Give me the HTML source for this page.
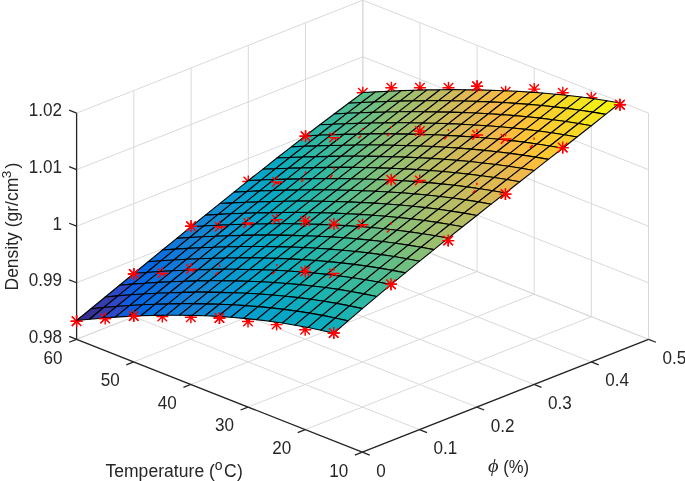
<!DOCTYPE html>
<html><head><meta charset="utf-8"><style>
html,body{margin:0;padding:0;background:#fff;}
svg{display:block;will-change:transform;}
</style></head><body>
<svg width="685" height="481" viewBox="0 0 685 481">
<g stroke="#d9d9d9" stroke-width="1" fill="none">
<line x1="76.6" y1="339.3" x2="76.6" y2="113.1"/>
<line x1="362.3" y1="452.2" x2="76.6" y2="339.3"/>
<line x1="133.84" y1="316.72" x2="133.84" y2="90.52"/>
<line x1="419.54" y1="429.62" x2="133.84" y2="316.72"/>
<line x1="191.08" y1="294.14" x2="191.08" y2="67.94"/>
<line x1="476.78" y1="407.04" x2="191.08" y2="294.14"/>
<line x1="248.32" y1="271.56" x2="248.32" y2="45.36"/>
<line x1="534.02" y1="384.46" x2="248.32" y2="271.56"/>
<line x1="305.56" y1="248.98" x2="305.56" y2="22.78"/>
<line x1="591.26" y1="361.88" x2="305.56" y2="248.98"/>
<line x1="362.8" y1="226.4" x2="362.8" y2="0.2"/>
<line x1="648.5" y1="339.3" x2="362.8" y2="226.4"/>
<line x1="648.5" y1="339.3" x2="648.5" y2="113.1"/>
<line x1="362.3" y1="452.2" x2="648.5" y2="339.3"/>
<line x1="591.36" y1="316.72" x2="591.36" y2="90.52"/>
<line x1="305.16" y1="429.62" x2="591.36" y2="316.72"/>
<line x1="534.22" y1="294.14" x2="534.22" y2="67.94"/>
<line x1="248.02" y1="407.04" x2="534.22" y2="294.14"/>
<line x1="477.08" y1="271.56" x2="477.08" y2="45.36"/>
<line x1="190.88" y1="384.46" x2="477.08" y2="271.56"/>
<line x1="419.94" y1="248.98" x2="419.94" y2="22.78"/>
<line x1="133.74" y1="361.88" x2="419.94" y2="248.98"/>
<line x1="362.8" y1="226.4" x2="362.8" y2="0.2"/>
<line x1="76.6" y1="339.3" x2="362.8" y2="226.4"/>
<line x1="76.6" y1="339.3" x2="362.8" y2="226.4"/>
<line x1="362.8" y1="226.4" x2="648.5" y2="339.3"/>
<line x1="76.6" y1="282.75" x2="362.8" y2="169.85"/>
<line x1="362.8" y1="169.85" x2="648.5" y2="282.75"/>
<line x1="76.6" y1="226.2" x2="362.8" y2="113.3"/>
<line x1="362.8" y1="113.3" x2="648.5" y2="226.2"/>
<line x1="76.6" y1="169.65" x2="362.8" y2="56.75"/>
<line x1="362.8" y1="56.75" x2="648.5" y2="169.65"/>
<line x1="76.6" y1="113.1" x2="362.8" y2="0.2"/>
<line x1="362.8" y1="0.2" x2="648.5" y2="113.1"/>
</g>
<g stroke="#262626" stroke-width="1.3" fill="none" stroke-linecap="butt">
<line x1="362.3" y1="452.2" x2="76.6" y2="339.3"/>
<line x1="362.3" y1="452.2" x2="648.5" y2="339.3"/>
<line x1="76.6" y1="339.3" x2="76.6" y2="113.1"/>
<line x1="362.3" y1="452.2" x2="354.86" y2="455.14"/>
<line x1="305.16" y1="429.62" x2="297.72" y2="432.56"/>
<line x1="248.02" y1="407.04" x2="240.58" y2="409.98"/>
<line x1="190.88" y1="384.46" x2="183.44" y2="387.4"/>
<line x1="133.74" y1="361.88" x2="126.3" y2="364.82"/>
<line x1="76.6" y1="339.3" x2="69.16" y2="342.24"/>
<line x1="362.3" y1="452.2" x2="369.74" y2="455.14"/>
<line x1="419.54" y1="429.62" x2="426.98" y2="432.56"/>
<line x1="476.78" y1="407.04" x2="484.22" y2="409.98"/>
<line x1="534.02" y1="384.46" x2="541.46" y2="387.4"/>
<line x1="591.26" y1="361.88" x2="598.7" y2="364.82"/>
<line x1="648.5" y1="339.3" x2="655.94" y2="342.24"/>
<line x1="76.6" y1="339.3" x2="69.16" y2="336.36"/>
<line x1="76.6" y1="282.75" x2="69.16" y2="279.81"/>
<line x1="76.6" y1="226.2" x2="69.16" y2="223.26"/>
<line x1="76.6" y1="169.65" x2="69.16" y2="166.71"/>
<line x1="76.6" y1="113.1" x2="69.16" y2="110.16"/>
</g>
<g stroke="#f00" stroke-width="1.45" fill="none">
<path d="M70.6 321.2H82.6M76.6 315.2V327.2M71.86 316.46L81.34 325.94M71.86 325.94L81.34 316.46"/>
<path d="M99.17 318.5H111.17M105.17 312.5V324.5M100.43 313.76L109.91 323.24M100.43 323.24L109.91 313.76"/>
<path d="M127.74 315.9H139.74M133.74 309.9V321.9M129 311.16L138.48 320.64M129 320.64L138.48 311.16"/>
<path d="M156.31 316.5H168.31M162.31 310.5V322.5M157.57 311.76L167.05 321.24M157.57 321.24L167.05 311.76"/>
<path d="M184.88 317.2H196.88M190.88 311.2V323.2M186.14 312.46L195.62 321.94M186.14 321.94L195.62 312.46"/>
<path d="M213.45 318H225.45M219.45 312V324M214.71 313.26L224.19 322.74M214.71 322.74L224.19 313.26"/>
<path d="M242.02 321.5H254.02M248.02 315.5V327.5M243.28 316.76L252.76 326.24M243.28 326.24L252.76 316.76"/>
<path d="M270.59 324.6H282.59M276.59 318.6V330.6M271.85 319.86L281.33 329.34M271.85 329.34L281.33 319.86"/>
<path d="M299.16 329.8H311.16M305.16 323.8V335.8M300.42 325.06L309.9 334.54M300.42 334.54L309.9 325.06"/>
<path d="M327.73 333H339.73M333.73 327V339M328.99 328.26L338.47 337.74M328.99 337.74L338.47 328.26"/>
<path d="M127.84 273.9H139.84M133.84 267.9V279.9M129.1 269.16L138.58 278.64M129.1 278.64L138.58 269.16"/>
<path d="M156.41 273.2H168.41M162.41 267.2V279.2M157.67 268.46L167.15 277.94M157.67 277.94L167.15 268.46"/>
<path d="M184.98 269.1H196.98M190.98 263.1V275.1M186.24 264.36L195.72 273.84M186.24 273.84L195.72 264.36"/>
<path d="M213.55 270.8H225.55M219.55 264.8V276.8M214.81 266.06L224.29 275.54M214.81 275.54L224.29 266.06"/>
<path d="M242.12 286.37H254.12M248.12 280.37V292.37M243.38 281.63L252.86 291.11M243.38 291.11L252.86 281.63"/>
<path d="M270.69 270H282.69M276.69 264V276M271.95 265.26L281.43 274.74M271.95 274.74L281.43 265.26"/>
<path d="M299.26 271.5H311.26M305.26 265.5V277.5M300.52 266.76L310 276.24M300.52 276.24L310 266.76"/>
<path d="M327.83 273.5H339.83M333.83 267.5V279.5M329.09 268.76L338.57 278.24M329.09 278.24L338.57 268.76"/>
<path d="M356.4 296.25H368.4M362.4 290.25V302.25M357.66 291.51L367.14 300.99M357.66 300.99L367.14 291.51"/>
<path d="M384.97 284.3H396.97M390.97 278.3V290.3M386.23 279.56L395.71 289.04M386.23 289.04L395.71 279.56"/>
<path d="M185.08 226.2H197.08M191.08 220.2V232.2M186.34 221.46L195.82 230.94M186.34 230.94L195.82 221.46"/>
<path d="M213.65 226.7H225.65M219.65 220.7V232.7M214.91 221.96L224.39 231.44M214.91 231.44L224.39 221.96"/>
<path d="M242.22 223H254.22M248.22 217V229M243.48 218.26L252.96 227.74M243.48 227.74L252.96 218.26"/>
<path d="M270.79 219.6H282.79M276.79 213.6V225.6M272.05 214.86L281.53 224.34M272.05 224.34L281.53 214.86"/>
<path d="M299.36 220.9H311.36M305.36 214.9V226.9M300.62 216.16L310.1 225.64M300.62 225.64L310.1 216.16"/>
<path d="M327.93 224.1H339.93M333.93 218.1V230.1M329.19 219.36L338.67 228.84M329.19 228.84L338.67 219.36"/>
<path d="M356.5 224.8H368.5M362.5 218.8V230.8M357.76 220.06L367.24 229.54M357.76 229.54L367.24 220.06"/>
<path d="M385.07 228.3H397.07M391.07 222.3V234.3M386.33 223.56L395.81 233.04M386.33 233.04L395.81 223.56"/>
<path d="M413.64 250.23H425.64M419.64 244.23V256.23M414.9 245.49L424.38 254.97M414.9 254.97L424.38 245.49"/>
<path d="M442.21 240.6H454.21M448.21 234.6V246.6M443.47 235.86L452.95 245.34M443.47 245.34L452.95 235.86"/>
<path d="M242.32 181.5H254.32M248.32 175.5V187.5M243.58 176.76L253.06 186.24M243.58 186.24L253.06 176.76"/>
<path d="M270.89 182H282.89M276.89 176V188M272.15 177.26L281.63 186.74M272.15 186.74L281.63 177.26"/>
<path d="M299.46 177.6H311.46M305.46 171.6V183.6M300.72 172.86L310.2 182.34M300.72 182.34L310.2 172.86"/>
<path d="M328.03 173.6H340.03M334.03 167.6V179.6M329.29 168.86L338.77 178.34M329.29 178.34L338.77 168.86"/>
<path d="M356.6 195.99H368.6M362.6 189.99V201.99M357.86 191.25L367.34 200.73M357.86 200.73L367.34 191.25"/>
<path d="M385.17 179.8H397.17M391.17 173.8V185.8M386.43 175.06L395.91 184.54M386.43 184.54L395.91 175.06"/>
<path d="M413.74 180.4H425.74M419.74 174.4V186.4M415 175.66L424.48 185.14M415 185.14L424.48 175.66"/>
<path d="M442.31 201.6H454.31M448.31 195.6V207.6M443.57 196.86L453.05 206.34M443.57 206.34L453.05 196.86"/>
<path d="M470.88 188.8H482.88M476.88 182.8V194.8M472.14 184.06L481.62 193.54M472.14 193.54L481.62 184.06"/>
<path d="M499.45 194.1H511.45M505.45 188.1V200.1M500.71 189.36L510.19 198.84M500.71 198.84L510.19 189.36"/>
<path d="M299.56 136.3H311.56M305.56 130.3V142.3M300.82 131.56L310.3 141.04M300.82 141.04L310.3 131.56"/>
<path d="M328.13 137.6H340.13M334.13 131.6V143.6M329.39 132.86L338.87 142.34M329.39 142.34L338.87 132.86"/>
<path d="M356.7 134H368.7M362.7 128V140M357.96 129.26L367.44 138.74M357.96 138.74L367.44 129.26"/>
<path d="M385.27 132H397.27M391.27 126V138M386.53 127.26L396.01 136.74M386.53 136.74L396.01 127.26"/>
<path d="M413.84 131H425.84M419.84 125V137M415.1 126.26L424.58 135.74M415.1 135.74L424.58 126.26"/>
<path d="M442.41 135H454.41M448.41 129V141M443.67 130.26L453.15 139.74M443.67 139.74L453.15 130.26"/>
<path d="M470.98 135H482.98M476.98 129V141M472.24 130.26L481.72 139.74M472.24 139.74L481.72 130.26"/>
<path d="M499.55 138.9H511.55M505.55 132.9V144.9M500.81 134.16L510.29 143.64M500.81 143.64L510.29 134.16"/>
<path d="M528.12 143.6H540.12M534.12 137.6V149.6M529.38 138.86L538.86 148.34M529.38 148.34L538.86 138.86"/>
<path d="M556.69 147.6H568.69M562.69 141.6V153.6M557.95 142.86L567.43 152.34M557.95 152.34L567.43 142.86"/>
<path d="M356.8 92.8H368.8M362.8 86.8V98.8M358.06 88.06L367.54 97.54M358.06 97.54L367.54 88.06"/>
<path d="M385.37 87.8H397.37M391.37 81.8V93.8M386.63 83.06L396.11 92.54M386.63 92.54L396.11 83.06"/>
<path d="M413.94 87.8H425.94M419.94 81.8V93.8M415.2 83.06L424.68 92.54M415.2 92.54L424.68 83.06"/>
<path d="M442.51 87.8H454.51M448.51 81.8V93.8M443.77 83.06L453.25 92.54M443.77 92.54L453.25 83.06"/>
<path d="M471.08 86.2H483.08M477.08 80.2V92.2M472.34 81.46L481.82 90.94M472.34 90.94L481.82 81.46"/>
<path d="M499.65 91.7H511.65M505.65 85.7V97.7M500.91 86.96L510.39 96.44M500.91 96.44L510.39 86.96"/>
<path d="M528.22 89.1H540.22M534.22 83.1V95.1M529.48 84.36L538.96 93.84M529.48 93.84L538.96 84.36"/>
<path d="M556.79 92.8H568.79M562.79 86.8V98.8M558.05 88.06L567.53 97.54M558.05 97.54L567.53 88.06"/>
<path d="M585.36 97.8H597.36M591.36 91.8V103.8M586.62 93.06L596.1 102.54M586.62 102.54L596.1 93.06"/>
<path d="M613.93 104.8H625.93M619.93 98.8V110.8M615.19 100.06L624.67 109.54M615.19 109.54L624.67 100.06"/>
</g>
<g stroke="#000" stroke-width="1.1" stroke-linejoin="round">
<polygon points="361.35,102.52 375.66,91.83 362.8,92.57 348.49,103.2" fill="#59bd8c"/>
<polygon points="374.2,101.94 388.51,91.19 375.66,91.83 361.35,102.52" fill="#71bf80"/>
<polygon points="347.04,113.32 361.35,102.52 348.49,103.2 334.18,113.95" fill="#4dbc92"/>
<polygon points="387.06,101.47 401.37,90.65 388.51,91.19 374.2,101.94" fill="#87bf77"/>
<polygon points="359.89,112.79 374.2,101.94 361.35,102.52 347.04,113.32" fill="#65be86"/>
<polygon points="332.73,124.22 347.04,113.32 334.18,113.95 319.87,124.81" fill="#38b99e"/>
<polygon points="399.92,101.1 414.23,90.23 401.37,90.65 387.06,101.47" fill="#9cbf6f"/>
<polygon points="372.75,112.36 387.06,101.47 374.2,101.94 359.89,112.79" fill="#71bf80"/>
<polygon points="345.58,123.73 359.89,112.79 347.04,113.32 332.73,124.22" fill="#4dbc92"/>
<polygon points="318.42,135.22 332.73,124.22 319.87,124.81 305.56,135.79" fill="#2eb7a4"/>
<polygon points="412.77,100.84 427.08,89.91 414.23,90.23 399.92,101.1" fill="#a5be6b"/>
<polygon points="385.61,112.04 399.92,101.1 387.06,101.47 372.75,112.36" fill="#87bf77"/>
<polygon points="358.44,123.33 372.75,112.36 359.89,112.79 345.58,123.73" fill="#65be86"/>
<polygon points="331.27,134.75 345.58,123.73 332.73,124.22 318.42,135.22" fill="#38b99e"/>
<polygon points="304.11,146.31 318.42,135.22 305.56,135.79 291.25,146.87" fill="#1db3af"/>
<polygon points="425.63,100.7 439.94,89.72 427.08,89.91 412.77,100.84" fill="#b7bd64"/>
<polygon points="398.46,111.82 412.77,100.84 399.92,101.1 385.61,112.04" fill="#9cbf6f"/>
<polygon points="371.3,123.04 385.61,112.04 372.75,112.36 358.44,123.33" fill="#71bf80"/>
<polygon points="344.13,134.37 358.44,123.33 345.58,123.73 331.27,134.75" fill="#4dbc92"/>
<polygon points="316.96,145.84 331.27,134.75 318.42,135.22 304.11,146.31" fill="#2eb7a4"/>
<polygon points="289.8,157.48 304.11,146.31 291.25,146.87 276.94,158.05" fill="#0faeb9"/>
<polygon points="438.49,100.67 452.8,89.64 439.94,89.72 425.63,100.7" fill="#c0bc60"/>
<polygon points="411.32,111.71 425.63,100.7 412.77,100.84 398.46,111.82" fill="#a5be6b"/>
<polygon points="384.15,122.85 398.46,111.82 385.61,112.04 371.3,123.04" fill="#87bf77"/>
<polygon points="356.99,134.09 371.3,123.04 358.44,123.33 344.13,134.37" fill="#65be86"/>
<polygon points="329.82,145.48 344.13,134.37 331.27,134.75 316.96,145.84" fill="#38b99e"/>
<polygon points="302.65,157.02 316.96,145.84 304.11,146.31 289.8,157.48" fill="#1db3af"/>
<polygon points="275.49,168.74 289.8,157.48 276.94,158.05 262.63,169.31" fill="#07a9c2"/>
<polygon points="451.34,100.77 465.65,89.7 452.8,89.64 438.49,100.67" fill="#d1bb59"/>
<polygon points="424.18,111.73 438.49,100.67 425.63,100.7 411.32,111.71" fill="#b7bd64"/>
<polygon points="397.01,122.77 411.32,111.71 398.46,111.82 384.15,122.85" fill="#9cbf6f"/>
<polygon points="369.84,133.92 384.15,122.85 371.3,123.04 356.99,134.09" fill="#71bf80"/>
<polygon points="342.68,145.21 356.99,134.09 344.13,134.37 329.82,145.48" fill="#4dbc92"/>
<polygon points="315.51,156.64 329.82,145.48 316.96,145.84 302.65,157.02" fill="#2eb7a4"/>
<polygon points="288.34,168.25 302.65,157.02 289.8,157.48 275.49,168.74" fill="#0faeb9"/>
<polygon points="261.18,180.06 275.49,168.74 262.63,169.31 248.32,180.66" fill="#06a7c6"/>
<polygon points="464.2,101 478.51,89.89 465.65,89.7 451.34,100.77" fill="#e1b952"/>
<polygon points="437.03,111.86 451.34,100.77 438.49,100.67 424.18,111.73" fill="#c0bc60"/>
<polygon points="409.87,122.81 424.18,111.73 411.32,111.71 397.01,122.77" fill="#a5be6b"/>
<polygon points="382.7,133.86 397.01,122.77 384.15,122.85 369.84,133.92" fill="#87bf77"/>
<polygon points="355.53,145.04 369.84,133.92 356.99,134.09 342.68,145.21" fill="#65be86"/>
<polygon points="328.37,156.37 342.68,145.21 329.82,145.48 315.51,156.64" fill="#38b99e"/>
<polygon points="301.2,167.87 315.51,156.64 302.65,157.02 288.34,168.25" fill="#1db3af"/>
<polygon points="274.03,179.55 288.34,168.25 275.49,168.74 261.18,180.06" fill="#07a9c2"/>
<polygon points="246.87,191.45 261.18,180.06 248.32,180.66 234.01,192.08" fill="#06a0cd"/>
<polygon points="477.06,101.37 491.37,90.21 478.51,89.89 464.2,101" fill="#e9b94e"/>
<polygon points="449.89,112.12 464.2,101 451.34,100.77 437.03,111.86" fill="#d1bb59"/>
<polygon points="422.72,122.96 437.03,111.86 424.18,111.73 409.87,122.81" fill="#b7bd64"/>
<polygon points="395.56,133.91 409.87,122.81 397.01,122.77 382.7,133.86" fill="#92bf73"/>
<polygon points="368.39,144.99 382.7,133.86 369.84,133.92 355.53,145.04" fill="#71bf80"/>
<polygon points="341.22,156.21 355.53,145.04 342.68,145.21 328.37,156.37" fill="#4dbc92"/>
<polygon points="314.06,167.59 328.37,156.37 315.51,156.64 301.2,167.87" fill="#25b5a9"/>
<polygon points="286.89,179.15 301.2,167.87 288.34,168.25 274.03,179.55" fill="#0faeb9"/>
<polygon points="259.72,190.91 274.03,179.55 261.18,180.06 246.87,191.45" fill="#06a7c6"/>
<polygon points="489.91,101.88 504.22,90.69 491.37,90.21 477.06,101.37" fill="#f1b94a"/>
<polygon points="232.56,202.9 246.87,191.45 234.01,192.08 219.7,203.57" fill="#0998d1"/>
<polygon points="462.75,112.52 477.06,101.37 464.2,101 449.89,112.12" fill="#d9ba56"/>
<polygon points="435.58,123.25 449.89,112.12 437.03,111.86 422.72,122.96" fill="#c0bc60"/>
<polygon points="408.41,134.09 422.72,122.96 409.87,122.81 395.56,133.91" fill="#a5be6b"/>
<polygon points="381.25,145.05 395.56,133.91 382.7,133.86 368.39,144.99" fill="#87bf77"/>
<polygon points="354.08,156.15 368.39,144.99 355.53,145.04 341.22,156.21" fill="#59bd8c"/>
<polygon points="326.91,167.41 341.22,156.21 328.37,156.37 314.06,167.59" fill="#38b99e"/>
<polygon points="299.75,178.85 314.06,167.59 301.2,167.87 286.89,179.15" fill="#1db3af"/>
<polygon points="272.58,190.48 286.89,179.15 274.03,179.55 259.72,190.91" fill="#07a9c2"/>
<polygon points="502.77,102.54 517.08,91.32 504.22,90.69 489.91,101.88" fill="#fdbe3d"/>
<polygon points="245.41,202.32 259.72,190.91 246.87,191.45 232.56,202.9" fill="#06a0cd"/>
<polygon points="475.6,113.06 489.91,101.88 477.06,101.37 462.75,112.52" fill="#e9b94e"/>
<polygon points="218.25,214.4 232.56,202.9 219.7,203.57 205.39,215.12" fill="#108ed2"/>
<polygon points="448.44,123.67 462.75,112.52 449.89,112.12 435.58,123.25" fill="#d1bb59"/>
<polygon points="421.27,134.39 435.58,123.25 422.72,122.96 408.41,134.09" fill="#aebe67"/>
<polygon points="394.1,145.23 408.41,134.09 395.56,133.91 381.25,145.05" fill="#92bf73"/>
<polygon points="366.94,156.21 381.25,145.05 368.39,144.99 354.08,156.15" fill="#71bf80"/>
<polygon points="339.77,167.35 354.08,156.15 341.22,156.21 326.91,167.41" fill="#4dbc92"/>
<polygon points="312.6,178.65 326.91,167.41 314.06,167.59 299.75,178.85" fill="#25b5a9"/>
<polygon points="285.44,190.15 299.75,178.85 286.89,179.15 272.58,190.48" fill="#0faeb9"/>
<polygon points="515.62,103.36 529.93,92.1 517.08,91.32 502.77,102.54" fill="#ffc337"/>
<polygon points="258.27,201.85 272.58,190.48 259.72,190.91 245.41,202.32" fill="#06a7c6"/>
<polygon points="488.46,113.74 502.77,102.54 489.91,101.88 475.6,113.06" fill="#f1b94a"/>
<polygon points="231.1,213.78 245.41,202.32 232.56,202.9 218.25,214.4" fill="#0998d1"/>
<polygon points="203.94,225.94 218.25,214.4 205.39,215.12 191.08,226.72" fill="#1485d4"/>
<polygon points="461.29,124.22 475.6,113.06 462.75,112.52 448.44,123.67" fill="#d9ba56"/>
<polygon points="434.12,134.82 448.44,123.67 435.58,123.25 421.27,134.39" fill="#c0bc60"/>
<polygon points="406.96,145.53 421.27,134.39 408.41,134.09 394.1,145.23" fill="#a5be6b"/>
<polygon points="379.79,156.39 394.1,145.23 381.25,145.05 366.94,156.21" fill="#87bf77"/>
<polygon points="352.63,167.4 366.94,156.21 354.08,156.15 339.77,167.35" fill="#59bd8c"/>
<polygon points="325.46,178.57 339.77,167.35 326.91,167.41 312.6,178.65" fill="#38b99e"/>
<polygon points="298.29,189.93 312.6,178.65 299.75,178.85 285.44,190.15" fill="#1db3af"/>
<polygon points="528.48,104.35 542.79,93.06 529.93,92.1 515.62,103.36" fill="#fec832"/>
<polygon points="271.13,201.49 285.44,190.15 272.58,190.48 258.27,201.85" fill="#07a9c2"/>
<polygon points="501.31,114.58 515.62,103.36 502.77,102.54 488.46,113.74" fill="#f8bb44"/>
<polygon points="243.96,213.27 258.27,201.85 245.41,202.32 231.1,213.78" fill="#06a0cd"/>
<polygon points="474.15,124.93 488.46,113.74 475.6,113.06 461.29,124.22" fill="#e1b952"/>
<polygon points="216.79,225.27 231.1,213.78 218.25,214.4 203.94,225.94" fill="#108ed2"/>
<polygon points="446.98,135.38 461.29,124.22 448.44,123.67 434.12,134.82" fill="#c8bc5d"/>
<polygon points="189.63,237.53 203.94,225.94 191.08,226.72 176.77,238.37" fill="#1481d6"/>
<polygon points="419.82,145.97 434.12,134.82 421.27,134.39 406.96,145.53" fill="#aebe67"/>
<polygon points="392.65,156.69 406.96,145.53 394.1,145.23 379.79,156.39" fill="#92bf73"/>
<polygon points="365.48,167.57 379.79,156.39 366.94,156.21 352.63,167.4" fill="#71bf80"/>
<polygon points="338.32,178.61 352.63,167.4 339.77,167.35 325.46,178.57" fill="#4dbc92"/>
<polygon points="311.15,189.83 325.46,178.57 312.6,178.65 298.29,189.93" fill="#25b5a9"/>
<polygon points="541.34,105.51 555.65,94.2 542.79,93.06 528.48,104.35" fill="#fad32a"/>
<polygon points="283.98,201.25 298.29,189.93 285.44,190.15 271.13,201.49" fill="#0faeb9"/>
<polygon points="514.17,115.59 528.48,104.35 515.62,103.36 501.31,114.58" fill="#ffc337"/>
<polygon points="256.82,212.87 271.13,201.49 258.27,201.85 243.96,213.27" fill="#06a4ca"/>
<polygon points="487,125.78 501.31,114.58 488.46,113.74 474.15,124.93" fill="#f1b94a"/>
<polygon points="229.65,224.72 243.96,213.27 231.1,213.78 216.79,225.27" fill="#0998d1"/>
<polygon points="459.84,136.1 474.15,124.93 461.29,124.22 446.98,135.38" fill="#d9ba56"/>
<polygon points="202.48,236.81 216.79,225.27 203.94,225.94 189.63,237.53" fill="#1485d4"/>
<polygon points="175.32,249.15 189.63,237.53 176.77,238.37 162.46,250.05" fill="#1079da"/>
<polygon points="432.67,146.54 446.98,135.38 434.12,134.82 419.82,145.97" fill="#c0bc60"/>
<polygon points="405.5,157.13 419.82,145.97 406.96,145.53 392.65,156.69" fill="#9cbf6f"/>
<polygon points="378.34,167.87 392.65,156.69 379.79,156.39 365.48,167.57" fill="#7cbf7b"/>
<polygon points="351.17,178.77 365.48,167.57 352.63,167.4 338.32,178.61" fill="#59bd8c"/>
<polygon points="324.01,189.85 338.32,178.61 325.46,178.57 311.15,189.83" fill="#38b99e"/>
<polygon points="554.19,106.86 568.5,95.53 555.65,94.2 541.34,105.51" fill="#f7d826"/>
<polygon points="296.84,201.12 311.15,189.83 298.29,189.93 283.98,201.25" fill="#15b1b4"/>
<polygon points="527.03,116.77 541.34,105.51 528.48,104.35 514.17,115.59" fill="#fec832"/>
<polygon points="269.67,212.59 283.98,201.25 271.13,201.49 256.82,212.87" fill="#07a9c2"/>
<polygon points="499.86,126.81 514.17,115.59 501.31,114.58 487,125.78" fill="#f8bb44"/>
<polygon points="242.51,224.28 256.82,212.87 243.96,213.27 229.65,224.72" fill="#06a0cd"/>
<polygon points="472.69,136.97 487,125.78 474.15,124.93 459.84,136.1" fill="#e1b952"/>
<polygon points="215.34,236.2 229.65,224.72 216.79,225.27 202.48,236.81" fill="#108ed2"/>
<polygon points="445.53,147.26 459.84,136.1 446.98,135.38 432.67,146.54" fill="#c8bc5d"/>
<polygon points="188.17,248.37 202.48,236.81 189.63,237.53 175.32,249.15" fill="#1481d6"/>
<polygon points="418.36,157.7 432.67,146.54 419.82,145.97 405.5,157.13" fill="#aebe67"/>
<polygon points="161.01,260.8 175.32,249.15 162.46,250.05 148.15,261.76" fill="#0871de"/>
<polygon points="391.2,168.3 405.5,157.13 392.65,156.69 378.34,167.87" fill="#92bf73"/>
<polygon points="364.03,179.06 378.34,167.87 365.48,167.57 351.17,178.77" fill="#71bf80"/>
<polygon points="336.86,190 351.17,178.77 338.32,178.61 324.01,189.85" fill="#42bb98"/>
<polygon points="567.05,108.41 581.36,97.07 568.5,95.53 554.19,106.86" fill="#f5de21"/>
<polygon points="309.7,201.12 324.01,189.85 311.15,189.83 296.84,201.12" fill="#25b5a9"/>
<polygon points="539.88,118.14 554.19,106.86 541.34,105.51 527.03,116.77" fill="#fcce2e"/>
<polygon points="282.53,212.44 296.84,201.12 283.98,201.25 269.67,212.59" fill="#0faeb9"/>
<polygon points="255.36,223.97 269.67,212.59 256.82,212.87 242.51,224.28" fill="#06a4ca"/>
<polygon points="512.72,128 527.03,116.77 514.17,115.59 499.86,126.81" fill="#fdbe3d"/>
<polygon points="485.55,138 499.86,126.81 487,125.78 472.69,136.97" fill="#e9b94e"/>
<polygon points="228.2,235.72 242.51,224.28 229.65,224.72 215.34,236.2" fill="#0998d1"/>
<polygon points="458.38,148.14 472.69,136.97 459.84,136.1 445.53,147.26" fill="#d1bb59"/>
<polygon points="201.03,247.72 215.34,236.2 202.48,236.81 188.17,248.37" fill="#1485d4"/>
<polygon points="431.22,158.42 445.53,147.26 432.67,146.54 418.36,157.7" fill="#b7bd64"/>
<polygon points="173.86,259.96 188.17,248.37 175.32,249.15 161.01,260.8" fill="#1079da"/>
<polygon points="404.05,168.87 418.36,157.7 405.5,157.13 391.2,168.3" fill="#9cbf6f"/>
<polygon points="146.7,272.46 161.01,260.8 148.15,261.76 133.84,273.5" fill="#0268e1"/>
<polygon points="376.88,179.48 391.2,168.3 378.34,167.87 364.03,179.06" fill="#7cbf7b"/>
<polygon points="349.72,190.27 364.03,179.06 351.17,178.77 336.86,190" fill="#59bd8c"/>
<polygon points="579.91,110.18 594.22,98.81 581.36,97.07 567.05,108.41" fill="#f5e41d"/>
<polygon points="322.55,201.24 336.86,190 324.01,189.85 309.7,201.12" fill="#38b99e"/>
<polygon points="552.74,119.7 567.05,108.41 554.19,106.86 539.88,118.14" fill="#fad32a"/>
<polygon points="295.39,212.41 309.7,201.12 296.84,201.12 282.53,212.44" fill="#15b1b4"/>
<polygon points="525.57,129.38 539.88,118.14 527.03,116.77 512.72,128" fill="#ffc337"/>
<polygon points="268.22,223.78 282.53,212.44 269.67,212.59 255.36,223.97" fill="#07a9c2"/>
<polygon points="498.41,139.2 512.72,128 499.86,126.81 485.55,138" fill="#f1b94a"/>
<polygon points="241.05,235.37 255.36,223.97 242.51,224.28 228.2,235.72" fill="#06a0cd"/>
<polygon points="471.24,149.17 485.55,138 472.69,136.97 458.38,148.14" fill="#d9ba56"/>
<polygon points="213.89,247.19 228.2,235.72 215.34,236.2 201.03,247.72" fill="#108ed2"/>
<polygon points="444.07,159.3 458.38,148.14 445.53,147.26 431.22,158.42" fill="#c8bc5d"/>
<polygon points="186.72,259.25 201.03,247.72 188.17,248.37 173.86,259.96" fill="#127dd8"/>
<polygon points="416.91,169.59 431.22,158.42 418.36,157.7 404.05,168.87" fill="#a5be6b"/>
<polygon points="159.55,271.57 173.86,259.96 161.01,260.8 146.7,272.46" fill="#0871de"/>
<polygon points="132.39,284.15 146.7,272.46 133.84,273.5 119.53,285.25" fill="#0f5cdd"/>
<polygon points="389.74,180.05 404.05,168.87 391.2,168.3 376.88,179.48" fill="#87bf77"/>
<polygon points="362.58,190.68 376.88,179.48 364.03,179.06 349.72,190.27" fill="#65be86"/>
<polygon points="592.76,112.16 607.07,100.79 594.22,98.81 579.91,110.18" fill="#f5eb18"/>
<polygon points="335.41,201.5 349.72,190.27 336.86,190 322.55,201.24" fill="#42bb98"/>
<polygon points="565.6,121.48 579.91,110.18 567.05,108.41 552.74,119.7" fill="#f7d826"/>
<polygon points="308.24,212.51 322.55,201.24 309.7,201.12 295.39,212.41" fill="#25b5a9"/>
<polygon points="538.43,130.95 552.74,119.7 539.88,118.14 525.57,129.38" fill="#fec832"/>
<polygon points="281.08,223.73 295.39,212.41 282.53,212.44 268.22,223.78" fill="#0faeb9"/>
<polygon points="511.26,140.58 525.57,129.38 512.72,128 498.41,139.2" fill="#fdbe3d"/>
<polygon points="253.91,235.15 268.22,223.78 255.36,223.97 241.05,235.37" fill="#06a4ca"/>
<polygon points="484.1,150.38 498.41,139.2 485.55,138 471.24,149.17" fill="#e9b94e"/>
<polygon points="226.74,246.8 241.05,235.37 228.2,235.72 213.89,247.19" fill="#0998d1"/>
<polygon points="456.93,160.34 471.24,149.17 458.38,148.14 444.07,159.3" fill="#d1bb59"/>
<polygon points="199.58,258.68 213.89,247.19 201.03,247.72 186.72,259.25" fill="#1485d4"/>
<polygon points="429.76,170.46 444.07,159.3 431.22,158.42 416.91,169.59" fill="#b7bd64"/>
<polygon points="172.41,270.81 186.72,259.25 173.86,259.96 159.55,271.57" fill="#1079da"/>
<polygon points="402.6,180.76 416.91,169.59 404.05,168.87 389.74,180.05" fill="#9cbf6f"/>
<polygon points="145.24,283.19 159.55,271.57 146.7,272.46 132.39,284.15" fill="#0268e1"/>
<polygon points="375.43,191.24 389.74,180.05 376.88,179.48 362.58,190.68" fill="#7cbf7b"/>
<polygon points="118.08,295.84 132.39,284.15 119.53,285.25 105.22,297.01" fill="#2c4ac7"/>
<polygon points="605.62,114.39 619.93,103.01 607.07,100.79 592.76,112.16" fill="#f6f313"/>
<polygon points="348.26,201.9 362.58,190.68 349.72,190.27 335.41,201.5" fill="#59bd8c"/>
<polygon points="578.45,123.47 592.76,112.16 579.91,110.18 565.6,121.48" fill="#f5de21"/>
<polygon points="321.1,212.76 335.41,201.5 322.55,201.24 308.24,212.51" fill="#2eb7a4"/>
<polygon points="551.29,132.73 565.6,121.48 552.74,119.7 538.43,130.95" fill="#fcce2e"/>
<polygon points="293.93,223.81 308.24,212.51 295.39,212.41 281.08,223.73" fill="#15b1b4"/>
<polygon points="524.12,142.16 538.43,130.95 525.57,129.38 511.26,140.58" fill="#ffc337"/>
<polygon points="266.77,235.07 281.08,223.73 268.22,223.78 253.91,235.15" fill="#07a9c2"/>
<polygon points="496.95,151.77 511.26,140.58 498.41,139.2 484.1,150.38" fill="#f1b94a"/>
<polygon points="239.6,246.55 253.91,235.15 241.05,235.37 226.74,246.8" fill="#079ccf"/>
<polygon points="469.79,161.55 484.1,150.38 471.24,149.17 456.93,160.34" fill="#d9ba56"/>
<polygon points="212.43,258.25 226.74,246.8 213.89,247.19 199.58,258.68" fill="#108ed2"/>
<polygon points="442.62,171.5 456.93,160.34 444.07,159.3 429.76,170.46" fill="#c0bc60"/>
<polygon points="185.27,270.2 199.58,258.68 186.72,259.25 172.41,270.81" fill="#127dd8"/>
<polygon points="415.45,181.63 429.76,170.46 416.91,169.59 402.6,180.76" fill="#a5be6b"/>
<polygon points="158.1,282.38 172.41,270.81 159.55,271.57 145.24,283.19" fill="#0871de"/>
<polygon points="388.29,191.95 402.6,180.76 389.74,180.05 375.43,191.24" fill="#87bf77"/>
<polygon points="130.93,294.82 145.24,283.19 132.39,284.15 118.08,295.84" fill="#0f5cdd"/>
<polygon points="361.12,202.45 375.43,191.24 362.58,190.68 348.26,201.9" fill="#65be86"/>
<polygon points="103.77,307.53 118.08,295.84 105.22,297.01 90.91,308.77" fill="#353dad"/>
<polygon points="591.31,125.71 605.62,114.39 592.76,112.16 578.45,123.47" fill="#f5e41d"/>
<polygon points="333.96,213.14 348.26,201.9 335.41,201.5 321.1,212.76" fill="#42bb98"/>
<polygon points="564.14,134.73 578.45,123.47 565.6,121.48 551.29,132.73" fill="#fad32a"/>
<polygon points="306.79,224.03 321.1,212.76 308.24,212.51 293.93,223.81" fill="#25b5a9"/>
<polygon points="536.98,143.95 551.29,132.73 538.43,130.95 524.12,142.16" fill="#fec832"/>
<polygon points="279.62,235.13 293.93,223.81 281.08,223.73 266.77,235.07" fill="#0aacbe"/>
<polygon points="252.46,246.44 266.77,235.07 253.91,235.15 239.6,246.55" fill="#06a4ca"/>
<polygon points="509.81,153.35 524.12,142.16 511.26,140.58 496.95,151.77" fill="#f8bb44"/>
<polygon points="482.64,162.94 496.95,151.77 484.1,150.38 469.79,161.55" fill="#e1b952"/>
<polygon points="225.29,257.97 239.6,246.55 226.74,246.8 212.43,258.25" fill="#0998d1"/>
<polygon points="455.48,172.71 469.79,161.55 456.93,160.34 442.62,171.5" fill="#c8bc5d"/>
<polygon points="198.12,269.73 212.43,258.25 199.58,258.68 185.27,270.2" fill="#1485d4"/>
<polygon points="428.31,182.67 442.62,171.5 429.76,170.46 415.45,181.63" fill="#aebe67"/>
<polygon points="170.96,281.72 185.27,270.2 172.41,270.81 158.1,282.38" fill="#1079da"/>
<polygon points="401.14,192.81 415.45,181.63 402.6,180.76 388.29,191.95" fill="#92bf73"/>
<polygon points="143.79,293.96 158.1,282.38 145.24,283.19 130.93,294.82" fill="#0268e1"/>
<polygon points="373.98,203.15 388.29,191.95 375.43,191.24 361.12,202.45" fill="#71bf80"/>
<polygon points="116.62,306.46 130.93,294.82 118.08,295.84 103.77,307.53" fill="#2c4ac7"/>
<polygon points="346.81,213.68 361.12,202.45 348.26,201.9 333.96,213.14" fill="#4dbc92"/>
<polygon points="89.46,319.22 103.77,307.53 90.91,308.77 76.6,320.52" fill="#363093"/>
<polygon points="577,136.97 591.31,125.71 578.45,123.47 564.14,134.73" fill="#f7d826"/>
<polygon points="319.64,224.41 333.96,213.14 321.1,212.76 306.79,224.03" fill="#2eb7a4"/>
<polygon points="549.83,145.96 564.14,134.73 551.29,132.73 536.98,143.95" fill="#fcce2e"/>
<polygon points="292.48,235.34 306.79,224.03 293.93,223.81 279.62,235.13" fill="#15b1b4"/>
<polygon points="522.67,155.14 536.98,143.95 524.12,142.16 509.81,153.35" fill="#fdbe3d"/>
<polygon points="265.31,246.48 279.62,235.13 266.77,235.07 252.46,246.44" fill="#07a9c2"/>
<polygon points="495.5,164.52 509.81,153.35 496.95,151.77 482.64,162.94" fill="#e9b94e"/>
<polygon points="238.15,257.84 252.46,246.44 239.6,246.55 225.29,257.97" fill="#079ccf"/>
<polygon points="468.33,174.1 482.64,162.94 469.79,161.55 455.48,172.71" fill="#d1bb59"/>
<polygon points="210.98,269.41 225.29,257.97 212.43,258.25 198.12,269.73" fill="#108ed2"/>
<polygon points="183.81,281.22 198.12,269.73 185.27,270.2 170.96,281.72" fill="#127dd8"/>
<polygon points="441.17,183.88 455.48,172.71 442.62,171.5 428.31,182.67" fill="#c0bc60"/>
<polygon points="414,193.85 428.31,182.67 415.45,181.63 401.14,192.81" fill="#a5be6b"/>
<polygon points="156.65,293.27 170.96,281.72 158.1,282.38 143.79,293.96" fill="#0871de"/>
<polygon points="386.83,204.01 401.14,192.81 388.29,191.95 373.98,203.15" fill="#87bf77"/>
<polygon points="129.48,305.56 143.79,293.96 130.93,294.82 116.62,306.46" fill="#0f5cdd"/>
<polygon points="359.67,214.37 373.98,203.15 361.12,202.45 346.81,213.68" fill="#65be86"/>
<polygon points="102.31,318.1 116.62,306.46 103.77,307.53 89.46,319.22" fill="#353dad"/>
<polygon points="332.5,224.94 346.81,213.68 333.96,213.14 319.64,224.41" fill="#38b99e"/>
<polygon points="562.69,148.2 577,136.97 564.14,134.73 549.83,145.96" fill="#fcce2e"/>
<polygon points="305.34,235.7 319.64,224.41 306.79,224.03 292.48,235.34" fill="#1db3af"/>
<polygon points="278.17,246.67 292.48,235.34 279.62,235.13 265.31,246.48" fill="#0aacbe"/>
<polygon points="535.52,157.15 549.83,145.96 536.98,143.95 522.67,155.14" fill="#ffc337"/>
<polygon points="508.36,166.32 522.67,155.14 509.81,153.35 495.5,164.52" fill="#f1b94a"/>
<polygon points="251,257.85 265.31,246.48 252.46,246.44 238.15,257.84" fill="#06a4ca"/>
<polygon points="481.19,175.69 495.5,164.52 482.64,162.94 468.33,174.1" fill="#d9ba56"/>
<polygon points="223.84,269.26 238.15,257.84 225.29,257.97 210.98,269.41" fill="#0c93d2"/>
<polygon points="454.02,185.28 468.33,174.1 455.48,172.71 441.17,183.88" fill="#c8bc5d"/>
<polygon points="196.67,280.88 210.98,269.41 198.12,269.73 183.81,281.22" fill="#1485d4"/>
<polygon points="426.86,195.06 441.17,183.88 428.31,182.67 414,193.85" fill="#aebe67"/>
<polygon points="169.5,292.73 183.81,281.22 170.96,281.72 156.65,293.27" fill="#1079da"/>
<polygon points="399.69,205.05 414,193.85 401.14,192.81 386.83,204.01" fill="#92bf73"/>
<polygon points="142.34,304.82 156.65,293.27 143.79,293.96 129.48,305.56" fill="#0268e1"/>
<polygon points="372.52,215.24 386.83,204.01 373.98,203.15 359.67,214.37" fill="#71bf80"/>
<polygon points="115.17,317.15 129.48,305.56 116.62,306.46 102.31,318.1" fill="#2c4ac7"/>
<polygon points="345.36,225.63 359.67,214.37 346.81,213.68 332.5,224.94" fill="#4dbc92"/>
<polygon points="318.19,236.22 332.5,224.94 319.64,224.41 305.34,235.7" fill="#2eb7a4"/>
<polygon points="291.02,247.02 305.34,235.7 292.48,235.34 278.17,246.67" fill="#15b1b4"/>
<polygon points="548.38,159.4 562.69,148.2 549.83,145.96 535.52,157.15" fill="#fec832"/>
<polygon points="521.21,168.33 535.52,157.15 522.67,155.14 508.36,166.32" fill="#f8bb44"/>
<polygon points="263.86,258.04 278.17,246.67 265.31,246.48 251,257.85" fill="#06a7c6"/>
<polygon points="494.05,177.49 508.36,166.32 495.5,164.52 481.19,175.69" fill="#e1b952"/>
<polygon points="236.69,269.26 251,257.85 238.15,257.84 223.84,269.26" fill="#079ccf"/>
<polygon points="466.88,186.87 481.19,175.69 468.33,174.1 454.02,185.28" fill="#d1bb59"/>
<polygon points="209.53,280.7 223.84,269.26 210.98,269.41 196.67,280.88" fill="#108ed2"/>
<polygon points="439.71,196.46 454.02,185.28 441.17,183.88 426.86,195.06" fill="#b7bd64"/>
<polygon points="182.36,292.36 196.67,280.88 183.81,281.22 169.5,292.73" fill="#127dd8"/>
<polygon points="412.55,206.26 426.86,195.06 414,193.85 399.69,205.05" fill="#9cbf6f"/>
<polygon points="155.19,304.25 169.5,292.73 156.65,293.27 142.34,304.82" fill="#0871de"/>
<polygon points="128.03,316.38 142.34,304.82 129.48,305.56 115.17,317.15" fill="#0f5cdd"/>
<polygon points="385.38,216.27 399.69,205.05 386.83,204.01 372.52,215.24" fill="#7cbf7b"/>
<polygon points="358.21,226.49 372.52,215.24 359.67,214.37 345.36,225.63" fill="#59bd8c"/>
<polygon points="331.05,236.91 345.36,225.63 332.5,224.94 318.19,236.22" fill="#38b99e"/>
<polygon points="303.88,247.54 318.19,236.22 305.34,235.7 291.02,247.02" fill="#1db3af"/>
<polygon points="534.07,170.58 548.38,159.4 535.52,157.15 521.21,168.33" fill="#fdbe3d"/>
<polygon points="276.72,258.38 291.02,247.02 278.17,246.67 263.86,258.04" fill="#0aacbe"/>
<polygon points="506.9,179.51 521.21,168.33 508.36,166.32 494.05,177.49" fill="#e9b94e"/>
<polygon points="249.55,269.43 263.86,258.04 251,257.85 236.69,269.26" fill="#06a4ca"/>
<polygon points="479.74,188.67 494.05,177.49 481.19,175.69 466.88,186.87" fill="#d9ba56"/>
<polygon points="222.38,280.69 236.69,269.26 223.84,269.26 209.53,280.7" fill="#0c93d2"/>
<polygon points="452.57,198.06 466.88,186.87 454.02,185.28 439.71,196.46" fill="#c0bc60"/>
<polygon points="195.22,292.17 209.53,280.7 196.67,280.88 182.36,292.36" fill="#1485d4"/>
<polygon points="425.4,207.67 439.71,196.46 426.86,195.06 412.55,206.26" fill="#a5be6b"/>
<polygon points="168.05,303.87 182.36,292.36 169.5,292.73 155.19,304.25" fill="#0d75dc"/>
<polygon points="398.24,217.5 412.55,206.26 399.69,205.05 385.38,216.27" fill="#87bf77"/>
<polygon points="140.88,315.79 155.19,304.25 142.34,304.82 128.03,316.38" fill="#0268e1"/>
<polygon points="371.07,227.53 385.38,216.27 372.52,215.24 358.21,226.49" fill="#65be86"/>
<polygon points="343.9,237.78 358.21,226.49 345.36,225.63 331.05,236.91" fill="#42bb98"/>
<polygon points="316.74,248.24 331.05,236.91 318.19,236.22 303.88,247.54" fill="#25b5a9"/>
<polygon points="289.57,258.9 303.88,247.54 291.02,247.02 276.72,258.38" fill="#0faeb9"/>
<polygon points="519.76,181.77 534.07,170.58 521.21,168.33 506.9,179.51" fill="#f1b94a"/>
<polygon points="262.4,269.78 276.72,258.38 263.86,258.04 249.55,269.43" fill="#06a7c6"/>
<polygon points="235.24,280.86 249.55,269.43 236.69,269.26 222.38,280.69" fill="#079ccf"/>
<polygon points="492.59,190.7 506.9,179.51 494.05,177.49 479.74,188.67" fill="#e1b952"/>
<polygon points="465.43,199.87 479.74,188.67 466.88,186.87 452.57,198.06" fill="#c8bc5d"/>
<polygon points="208.07,292.16 222.38,280.69 209.53,280.7 195.22,292.17" fill="#1389d3"/>
<polygon points="438.26,209.28 452.57,198.06 439.71,196.46 425.4,207.67" fill="#aebe67"/>
<polygon points="180.91,303.67 195.22,292.17 182.36,292.36 168.05,303.87" fill="#127dd8"/>
<polygon points="411.09,218.91 425.4,207.67 412.55,206.26 398.24,217.5" fill="#92bf73"/>
<polygon points="153.74,315.39 168.05,303.87 155.19,304.25 140.88,315.79" fill="#0871de"/>
<polygon points="383.93,228.76 398.24,217.5 385.38,216.27 371.07,227.53" fill="#7cbf7b"/>
<polygon points="356.76,238.83 371.07,227.53 358.21,226.49 343.9,237.78" fill="#59bd8c"/>
<polygon points="329.59,249.11 343.9,237.78 331.05,236.91 316.74,248.24" fill="#38b99e"/>
<polygon points="302.43,259.6 316.74,248.24 303.88,247.54 289.57,258.9" fill="#1db3af"/>
<polygon points="275.26,270.3 289.57,258.9 276.72,258.38 262.4,269.78" fill="#07a9c2"/>
<polygon points="505.45,192.97 519.76,181.77 506.9,179.51 492.59,190.7" fill="#e9b94e"/>
<polygon points="248.09,281.21 262.4,269.78 249.55,269.43 235.24,280.86" fill="#06a0cd"/>
<polygon points="478.28,201.91 492.59,190.7 479.74,188.67 465.43,199.87" fill="#d1bb59"/>
<polygon points="220.93,292.33 235.24,280.86 222.38,280.69 208.07,292.16" fill="#0c93d2"/>
<polygon points="451.12,211.11 465.43,199.87 452.57,198.06 438.26,209.28" fill="#b7bd64"/>
<polygon points="193.76,303.65 208.07,292.16 195.22,292.17 180.91,303.67" fill="#1485d4"/>
<polygon points="166.6,315.19 180.91,303.67 168.05,303.87 153.74,315.39" fill="#0d75dc"/>
<polygon points="423.95,220.54 438.26,209.28 425.4,207.67 411.09,218.91" fill="#a5be6b"/>
<polygon points="396.78,230.2 411.09,218.91 398.24,217.5 383.93,228.76" fill="#87bf77"/>
<polygon points="369.62,240.08 383.93,228.76 371.07,227.53 356.76,238.83" fill="#65be86"/>
<polygon points="342.45,250.18 356.76,238.83 343.9,237.78 329.59,249.11" fill="#42bb98"/>
<polygon points="315.28,260.49 329.59,249.11 316.74,248.24 302.43,259.6" fill="#25b5a9"/>
<polygon points="288.12,271.02 302.43,259.6 289.57,258.9 275.26,270.3" fill="#0faeb9"/>
<polygon points="260.95,281.75 275.26,270.3 262.4,269.78 248.09,281.21" fill="#06a7c6"/>
<polygon points="491.14,204.19 505.45,192.97 492.59,190.7 478.28,201.91" fill="#d9ba56"/>
<polygon points="233.78,292.69 248.09,281.21 235.24,280.86 220.93,292.33" fill="#0998d1"/>
<polygon points="206.62,303.83 220.93,292.33 208.07,292.16 193.76,303.65" fill="#1389d3"/>
<polygon points="463.97,213.16 478.28,201.91 465.43,199.87 451.12,211.11" fill="#c0bc60"/>
<polygon points="436.81,222.38 451.12,211.11 438.26,209.28 423.95,220.54" fill="#aebe67"/>
<polygon points="179.45,315.18 193.76,303.65 180.91,303.67 166.6,315.19" fill="#127dd8"/>
<polygon points="409.64,231.84 423.95,220.54 411.09,218.91 396.78,230.2" fill="#92bf73"/>
<polygon points="382.47,241.53 396.78,230.2 383.93,228.76 369.62,240.08" fill="#71bf80"/>
<polygon points="355.31,251.45 369.62,240.08 356.76,238.83 342.45,250.18" fill="#4dbc92"/>
<polygon points="328.14,261.58 342.45,250.18 329.59,249.11 315.28,260.49" fill="#2eb7a4"/>
<polygon points="300.97,271.93 315.28,260.49 302.43,259.6 288.12,271.02" fill="#15b1b4"/>
<polygon points="273.81,282.49 288.12,271.02 275.26,270.3 260.95,281.75" fill="#07a9c2"/>
<polygon points="246.64,293.25 260.95,281.75 248.09,281.21 233.78,292.69" fill="#06a0cd"/>
<polygon points="476.83,215.46 491.14,204.19 478.28,201.91 463.97,213.16" fill="#c8bc5d"/>
<polygon points="219.47,304.21 233.78,292.69 220.93,292.33 206.62,303.83" fill="#0c93d2"/>
<polygon points="192.31,315.38 206.62,303.83 193.76,303.65 179.45,315.18" fill="#1481d6"/>
<polygon points="449.66,224.45 463.97,213.16 451.12,211.11 436.81,222.38" fill="#b7bd64"/>
<polygon points="422.5,233.7 436.81,222.38 423.95,220.54 409.64,231.84" fill="#9cbf6f"/>
<polygon points="395.33,243.2 409.64,231.84 396.78,230.2 382.47,241.53" fill="#7cbf7b"/>
<polygon points="368.16,252.92 382.47,241.53 369.62,240.08 355.31,251.45" fill="#59bd8c"/>
<polygon points="341,262.88 355.31,251.45 342.45,250.18 328.14,261.58" fill="#38b99e"/>
<polygon points="313.83,273.05 328.14,261.58 315.28,260.49 300.97,271.93" fill="#1db3af"/>
<polygon points="286.66,283.43 300.97,271.93 288.12,271.02 273.81,282.49" fill="#0aacbe"/>
<polygon points="259.5,294.01 273.81,282.49 260.95,281.75 246.64,293.25" fill="#06a4ca"/>
<polygon points="232.33,304.8 246.64,293.25 233.78,292.69 219.47,304.21" fill="#0998d1"/>
<polygon points="205.16,315.78 219.47,304.21 206.62,303.83 192.31,315.38" fill="#1389d3"/>
<polygon points="462.52,226.78 476.83,215.46 463.97,213.16 449.66,224.45" fill="#b7bd64"/>
<polygon points="435.35,235.81 449.66,224.45 436.81,222.38 422.5,233.7" fill="#a5be6b"/>
<polygon points="408.19,245.09 422.5,233.7 409.64,231.84 395.33,243.2" fill="#87bf77"/>
<polygon points="381.02,254.62 395.33,243.2 382.47,241.53 368.16,252.92" fill="#65be86"/>
<polygon points="353.85,264.39 368.16,252.92 355.31,251.45 341,262.88" fill="#42bb98"/>
<polygon points="326.69,274.38 341,262.88 328.14,261.58 313.83,273.05" fill="#25b5a9"/>
<polygon points="299.52,284.58 313.83,273.05 300.97,271.93 286.66,283.43" fill="#0faeb9"/>
<polygon points="272.35,294.99 286.66,283.43 273.81,282.49 259.5,294.01" fill="#06a7c6"/>
<polygon points="245.19,305.6 259.5,294.01 246.64,293.25 232.33,304.8" fill="#079ccf"/>
<polygon points="218.02,316.41 232.33,304.8 219.47,304.21 205.16,315.78" fill="#108ed2"/>
<polygon points="448.21,238.17 462.52,226.78 449.66,224.45 435.35,235.81" fill="#aebe67"/>
<polygon points="421.04,247.23 435.35,235.81 422.5,233.7 408.19,245.09" fill="#92bf73"/>
<polygon points="393.88,256.56 408.19,245.09 395.33,243.2 381.02,254.62" fill="#71bf80"/>
<polygon points="366.71,266.13 381.02,254.62 368.16,252.92 353.85,264.39" fill="#4dbc92"/>
<polygon points="339.54,275.93 353.85,264.39 341,262.88 326.69,274.38" fill="#38b99e"/>
<polygon points="312.38,285.95 326.69,274.38 313.83,273.05 299.52,284.58" fill="#1db3af"/>
<polygon points="285.21,296.19 299.52,284.58 286.66,283.43 272.35,294.99" fill="#0aacbe"/>
<polygon points="258.04,306.62 272.35,294.99 259.5,294.01 245.19,305.6" fill="#06a4ca"/>
<polygon points="230.88,317.26 245.19,305.6 232.33,304.8 218.02,316.41" fill="#0c93d2"/>
<polygon points="433.9,249.63 448.21,238.17 435.35,235.81 421.04,247.23" fill="#9cbf6f"/>
<polygon points="406.73,258.74 421.04,247.23 408.19,245.09 393.88,256.56" fill="#7cbf7b"/>
<polygon points="379.57,268.11 393.88,256.56 381.02,254.62 366.71,266.13" fill="#59bd8c"/>
<polygon points="352.4,277.72 366.71,266.13 353.85,264.39 339.54,275.93" fill="#42bb98"/>
<polygon points="325.23,287.56 339.54,275.93 326.69,274.38 312.38,285.95" fill="#25b5a9"/>
<polygon points="298.07,297.62 312.38,285.95 299.52,284.58 285.21,296.19" fill="#0faeb9"/>
<polygon points="270.9,307.88 285.21,296.19 272.35,294.99 258.04,306.62" fill="#06a7c6"/>
<polygon points="243.73,318.34 258.04,306.62 245.19,305.6 230.88,317.26" fill="#079ccf"/>
<polygon points="419.59,261.19 433.9,249.63 421.04,247.23 406.73,258.74" fill="#87bf77"/>
<polygon points="392.42,270.35 406.73,258.74 393.88,256.56 379.57,268.11" fill="#65be86"/>
<polygon points="365.26,279.76 379.57,268.11 366.71,266.13 352.4,277.72" fill="#4dbc92"/>
<polygon points="338.09,289.41 352.4,277.72 339.54,275.93 325.23,287.56" fill="#2eb7a4"/>
<polygon points="310.92,299.29 325.23,287.56 312.38,285.95 298.07,297.62" fill="#15b1b4"/>
<polygon points="283.76,309.37 298.07,297.62 285.21,296.19 270.9,307.88" fill="#07a9c2"/>
<polygon points="256.59,319.66 270.9,307.88 258.04,306.62 243.73,318.34" fill="#06a0cd"/>
<polygon points="405.28,272.86 419.59,261.19 406.73,258.74 392.42,270.35" fill="#71bf80"/>
<polygon points="378.11,282.07 392.42,270.35 379.57,268.11 365.26,279.76" fill="#4dbc92"/>
<polygon points="350.95,291.52 365.26,279.76 352.4,277.72 338.09,289.41" fill="#38b99e"/>
<polygon points="323.78,301.21 338.09,289.41 325.23,287.56 310.92,299.29" fill="#1db3af"/>
<polygon points="296.61,311.12 310.92,299.29 298.07,297.62 283.76,309.37" fill="#0aacbe"/>
<polygon points="269.45,321.23 283.76,309.37 270.9,307.88 256.59,319.66" fill="#06a4ca"/>
<polygon points="390.97,284.65 405.28,272.86 392.42,270.35 378.11,282.07" fill="#59bd8c"/>
<polygon points="363.8,293.9 378.11,282.07 365.26,279.76 350.95,291.52" fill="#38b99e"/>
<polygon points="336.64,303.4 350.95,291.52 338.09,289.41 323.78,301.21" fill="#25b5a9"/>
<polygon points="309.47,313.13 323.78,301.21 310.92,299.29 296.61,311.12" fill="#0faeb9"/>
<polygon points="282.3,323.07 296.61,311.12 283.76,309.37 269.45,321.23" fill="#06a7c6"/>
<polygon points="376.66,296.57 390.97,284.65 378.11,282.07 363.8,293.9" fill="#42bb98"/>
<polygon points="349.49,305.87 363.8,293.9 350.95,291.52 336.64,303.4" fill="#2eb7a4"/>
<polygon points="322.33,315.41 336.64,303.4 323.78,301.21 309.47,313.13" fill="#15b1b4"/>
<polygon points="295.16,325.17 309.47,313.13 296.61,311.12 282.3,323.07" fill="#07a9c2"/>
<polygon points="362.35,308.63 376.66,296.57 363.8,293.9 349.49,305.87" fill="#2eb7a4"/>
<polygon points="335.18,317.98 349.49,305.87 336.64,303.4 322.33,315.41" fill="#15b1b4"/>
<polygon points="308.02,327.56 322.33,315.41 309.47,313.13 295.16,325.17" fill="#0aacbe"/>
<polygon points="348.04,320.86 362.35,308.63 349.49,305.87 335.18,317.98" fill="#1db3af"/>
<polygon points="320.87,330.25 335.18,317.98 322.33,315.41 308.02,327.56" fill="#0aacbe"/>
<polygon points="333.73,333.26 348.04,320.86 335.18,317.98 320.87,330.25" fill="#0faeb9"/>
</g>
<g stroke="#f00" stroke-width="1.45" fill="none">
<path d="M76.6 321.2L70.6 321.2M76.6 321.2L82.6 321.2M76.6 321.2L71.86 325.94M74.7 319.3L71.86 316.46M76.6 318.5L76.6 315.2M76.6 321.2L79.44 324.04"/>
<path d="M105.17 318.5L99.17 318.5M105.17 318.5L111.17 318.5M105.17 318.5L100.43 323.24M103.27 316.6L100.43 313.76M105.17 315.8L105.17 312.5M105.17 318.5L108.01 321.34"/>
<path d="M127.74 315.9H139.74M133.74 309.9V321.9M129 311.16L138.48 320.64M129 320.64L138.48 311.16"/>
<path d="M213.45 318H225.45M219.45 312V324M214.71 313.26L224.19 322.74M214.71 322.74L224.19 313.26"/>
<path d="M327.73 333H339.73M333.73 327V339M328.99 328.26L338.47 337.74M328.99 337.74L338.47 328.26"/>
<path d="M127.84 273.9H139.84M133.84 267.9V279.9M129.1 269.16L138.58 278.64M129.1 278.64L138.58 269.16"/>
<path d="M162.41 273.2L156.41 273.2M162.41 273.2L168.41 273.2M162.41 273.2L157.67 277.94M160.51 271.3L157.67 268.46M162.41 270.5L162.41 267.2M162.41 273.2L165.25 276.04"/>
<path d="M190.98 269.1L184.98 269.1M190.98 269.1L196.98 269.1M190.98 269.1L186.24 273.84M189.08 267.2L186.24 264.36M190.98 266.4L190.98 263.1M190.98 269.1L193.82 271.94"/>
<path d="M219.55 266.9L219.55 264.8M218.13 272.22L215.28 275.07"/>
<path d="M276.69 266.1L276.69 264M275.27 271.42L272.42 274.27"/>
<path d="M299.26 271.5H311.26M305.26 265.5V277.5M300.52 266.76L310 276.24M300.52 276.24L310 266.76"/>
<path d="M333.83 273.5L327.83 273.5M333.83 273.5L339.83 273.5M333.83 273.5L329.09 278.24M331.93 271.6L329.09 268.76M333.83 270.8L333.83 267.5M333.83 273.5L336.67 276.34"/>
<path d="M384.97 284.3H396.97M390.97 278.3V290.3M386.23 279.56L395.71 289.04M386.23 289.04L395.71 279.56"/>
<path d="M185.08 226.2H197.08M191.08 220.2V232.2M186.34 221.46L195.82 230.94M186.34 230.94L195.82 221.46"/>
<path d="M219.65 226.7L213.65 226.7M219.65 226.7L225.65 226.7M219.65 226.7L214.91 231.44M217.75 224.8L214.91 221.96M219.65 224L219.65 220.7M219.65 226.7L222.49 229.54"/>
<path d="M248.22 223L242.22 223M248.22 223L254.22 223M248.22 223L243.48 227.74M246.32 221.1L243.48 218.26M248.22 220.3L248.22 217M248.22 223L251.06 225.84"/>
<path d="M276.79 219.6L270.79 219.6M276.79 219.6L282.79 219.6M276.79 219.6L272.05 224.34M274.89 217.7L272.05 214.86M276.79 216.9L276.79 213.6M276.79 219.6L279.63 222.44"/>
<path d="M299.36 220.9H311.36M305.36 214.9V226.9M300.62 216.16L310.1 225.64M300.62 225.64L310.1 216.16"/>
<path d="M327.93 224.1H339.93M333.93 218.1V230.1M329.19 219.36L338.67 228.84M329.19 228.84L338.67 219.36"/>
<path d="M362.5 224.8L356.5 224.8M362.5 224.8L368.5 224.8M362.5 224.8L357.76 229.54M360.6 222.9L357.76 220.06M362.5 222.1L362.5 218.8M362.5 224.8L365.34 227.64"/>
<path d="M391.07 224.4L391.07 222.3M389.65 229.72L386.8 232.57"/>
<path d="M442.21 240.6H454.21M448.21 234.6V246.6M443.47 235.86L452.95 245.34M443.47 245.34L452.95 235.86"/>
<path d="M276.89 182L270.89 182M276.89 182L282.89 182M276.89 182L272.15 186.74M274.99 180.1L272.15 177.26M276.89 179.3L276.89 176M276.89 182L279.73 184.84"/>
<path d="M305.46 173.7L305.46 171.6M304.04 179.02L301.19 181.87"/>
<path d="M334.03 169.7L334.03 167.6M332.61 175.02L329.76 177.87"/>
<path d="M385.17 179.8H397.17M391.17 173.8V185.8M386.43 175.06L395.91 184.54M386.43 184.54L395.91 175.06"/>
<path d="M419.74 180.4L413.74 180.4M419.74 180.4L425.74 180.4M419.74 180.4L415 185.14M417.84 178.5L415 175.66M419.74 177.7L419.74 174.4M419.74 180.4L422.58 183.24"/>
<path d="M476.88 184.9L476.88 182.8M475.46 190.22L472.61 193.07"/>
<path d="M499.45 194.1H511.45M505.45 188.1V200.1M500.71 189.36L510.19 198.84M500.71 198.84L510.19 189.36"/>
<path d="M299.56 136.3H311.56M305.56 130.3V142.3M300.82 131.56L310.3 141.04M300.82 141.04L310.3 131.56"/>
<path d="M334.13 137.6L328.13 137.6M334.13 137.6L340.13 137.6M334.13 137.6L329.39 142.34M332.23 135.7L329.39 132.86M334.13 134.9L334.13 131.6M334.13 137.6L336.97 140.44"/>
<path d="M362.7 130.1L362.7 128M361.28 135.42L358.43 138.27"/>
<path d="M391.27 128.1L391.27 126M389.85 133.42L387 136.27"/>
<path d="M413.84 131H425.84M419.84 125V137M415.1 126.26L424.58 135.74M415.1 135.74L424.58 126.26"/>
<path d="M448.41 131.1L448.41 129M446.99 136.42L444.14 139.27"/>
<path d="M476.98 135L470.98 135M476.98 135L482.98 135M476.98 135L472.24 139.74M475.08 133.1L472.24 130.26M476.98 132.3L476.98 129M476.98 135L479.82 137.84"/>
<path d="M505.55 138.9L499.55 138.9M505.55 138.9L511.55 138.9M505.55 138.9L500.81 143.64M503.65 137L500.81 134.16M505.55 136.2L505.55 132.9M505.55 138.9L508.39 141.74"/>
<path d="M534.12 139.7L534.12 137.6M532.7 145.02L529.85 147.87"/>
<path d="M556.69 147.6H568.69M562.69 141.6V153.6M557.95 142.86L567.43 152.34M557.95 152.34L567.43 142.86"/>
<path d="M471.08 86.2H483.08M477.08 80.2V92.2M472.34 81.46L481.82 90.94M472.34 90.94L481.82 81.46"/>
<path d="M613.93 104.8H625.93M619.93 98.8V110.8M615.19 100.06L624.67 109.54M615.19 109.54L624.67 100.06"/>
</g>
<g font-family="Liberation Sans, sans-serif" font-size="18" fill="#262626">
<text transform="translate(62.1,342.6) scale(0.95,1)" text-anchor="end">0.98</text>
<text transform="translate(62.1,286.05) scale(0.95,1)" text-anchor="end">0.99</text>
<text transform="translate(62.1,229.5) scale(0.95,1)" text-anchor="end">1</text>
<text transform="translate(62.1,172.95) scale(0.95,1)" text-anchor="end">1.01</text>
<text transform="translate(62.1,116.4) scale(0.95,1)" text-anchor="end">1.02</text>
<text transform="translate(348.3,476.6) scale(0.95,1)" text-anchor="end">10</text>
<text transform="translate(291.16,454.02) scale(0.95,1)" text-anchor="end">20</text>
<text transform="translate(234.02,431.44) scale(0.95,1)" text-anchor="end">30</text>
<text transform="translate(176.88,408.86) scale(0.95,1)" text-anchor="end">40</text>
<text transform="translate(119.74,386.28) scale(0.95,1)" text-anchor="end">50</text>
<text transform="translate(62.6,363.7) scale(0.95,1)" text-anchor="end">60</text>
<text transform="translate(376.3,476.8) scale(0.95,1)" text-anchor="start">0</text>
<text transform="translate(433.54,454.22) scale(0.95,1)" text-anchor="start">0.1</text>
<text transform="translate(490.78,431.64) scale(0.95,1)" text-anchor="start">0.2</text>
<text transform="translate(548.02,409.06) scale(0.95,1)" text-anchor="start">0.3</text>
<text transform="translate(605.26,386.48) scale(0.95,1)" text-anchor="start">0.4</text>
<text transform="translate(662.5,363.9) scale(0.95,1)" text-anchor="start">0.5</text>
<g font-size="17.5">
<text x="105.4" y="477" letter-spacing="0.05">Temperature (</text>
<text x="214.8" y="469.8" font-size="14">o</text>
<text x="224" y="477" letter-spacing="0.4">C)</text>
<text transform="translate(487.9,471.9) scale(1.1,1)" font-family="Liberation Serif, serif" font-style="italic" font-size="18.5">&#981;</text>
<text transform="translate(503.3,472.6) scale(0.95,1)">(%)</text>
<g transform="translate(17.8,290.5) rotate(-90)"><text x="0" y="0">Density (gr/cm</text>
<text x="112.3" y="-6.7" font-size="13.5">3</text>
<text x="122" y="0">)</text></g>
</g>
</g>
</svg>
</body></html>
